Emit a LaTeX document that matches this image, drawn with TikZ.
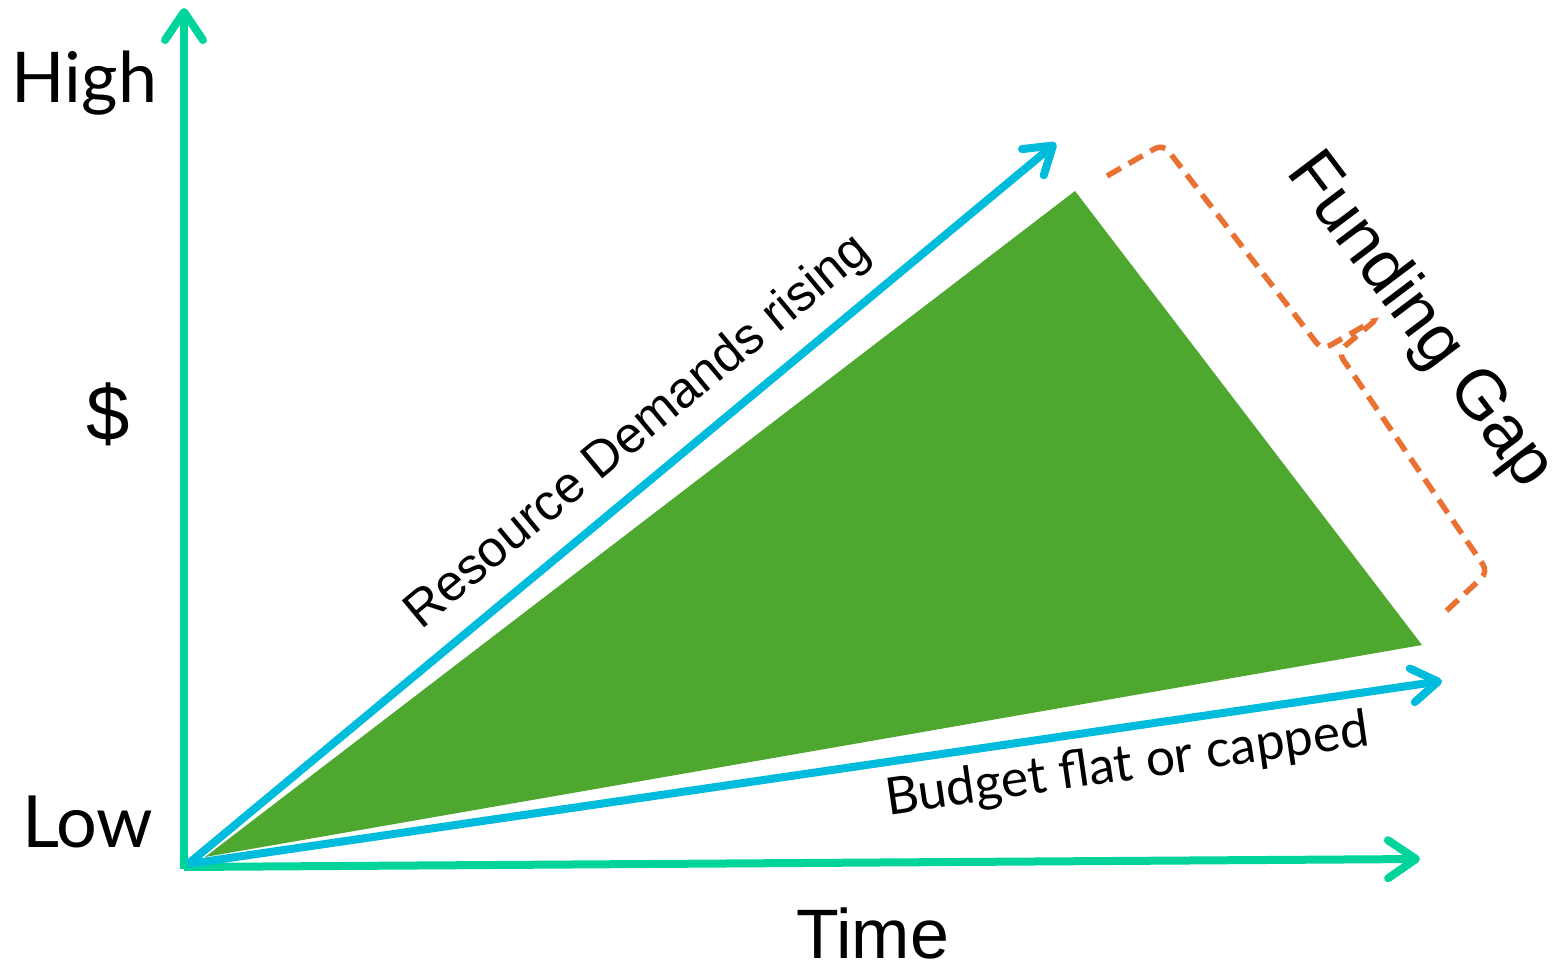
\documentclass[tikz,border=0pt]{standalone}
\usepackage{fontspec}
\setmainfont{Liberation Sans}
\newfontfamily\labelfont{Lato}
\usetikzlibrary{arrows.meta}

\definecolor{axisteal}{HTML}{00D49B}
\definecolor{trendblue}{HTML}{00BCDC}
\definecolor{gapgreen}{HTML}{4EA72E}
\definecolor{gaporange}{HTML}{E97132}

\tikzset{
  axisline/.style={draw=axisteal, line width=8pt,
    -{Straight Barb[length=28pt,width=38pt,round]}},
  trendline/.style={draw=trendblue, line width=8pt,
    -{Straight Barb[length=26pt,width=34pt,round]}},
  bracket/.style={draw=gaporange, line width=5.5pt,
    dash pattern=on 16pt off 9pt, rounded corners=9pt},
  txt/.style={inner sep=0pt, outer sep=0pt, text=black},
}

\begin{document}
\begin{tikzpicture}[x=1pt, y=-1pt]
  \useasboundingbox (0,0) rectangle (1554,965);

  % origin and arrow ends
  \coordinate (origin) at (184,867);
  \coordinate (ytop) at (184,8);
  \coordinate (xend) at (1420,859);
  \coordinate (bstart) at (188,864);
  \coordinate (demand) at (1056,143);
  \coordinate (budget) at (1442,681);

  % axes
  \draw[axisline] (184,869) -- (ytop);
  \draw[axisline] (origin) -- (xend);

  % gap wedge
  \fill[gapgreen] (205,857) coordinate (wl) -- (1075,191) coordinate (wt)
     -- (1422,645) coordinate (wr) -- cycle;

  % trends
  \draw[trendline] (bstart) -- (demand);
  \draw[trendline] (bstart) -- (budget);

  % brace marking the gap
  \coordinate (b1) at (1107,176);
  \coordinate (b2) at (1163,144);
  \coordinate (b3) at (1322,350);
  \coordinate (btip) at (1378,318);
  \coordinate (b4) at (1338,352);
  \coordinate (b5) at (1488,572);
  \coordinate (b6) at (1443,614);
  \draw[bracket] (b1) -- (b2) -- (b3) -- (btip) -- (b4) -- (b5) -- (b6);

  % axis labels
  \node[txt, anchor=base west] (high) at (12,103)
    {\labelfont\fontsize{70}{74}\selectfont High};
  \node[txt, anchor=base west] (low) at (22,847)
    {\labelfont\fontsize{72}{76}\selectfont Low};
  \node[txt] (dollar) at (108,414)
    {\fontsize{78}{82}\selectfont \$};
  \node[txt, anchor=base west] (time) at (796,958)
    {\fontsize{70}{74}\selectfont Time};

  % trend labels
  \node[txt, anchor=base west, rotate=39.7] (demandlabel) at (421,630)
    {\fontsize{51}{56}\selectfont Resource Demands rising};
  \node[txt, anchor=base west, rotate=8.2] (budgetlabel) at (888,815)
    {\labelfont\fontsize{51.5}{56}\selectfont Budget flat or capped};
  \node[txt, anchor=base west, rotate=-53] (gaplabel) at (1285,173)
    {\fontsize{69}{74}\selectfont Funding Gap};
\end{tikzpicture}
\end{document}
